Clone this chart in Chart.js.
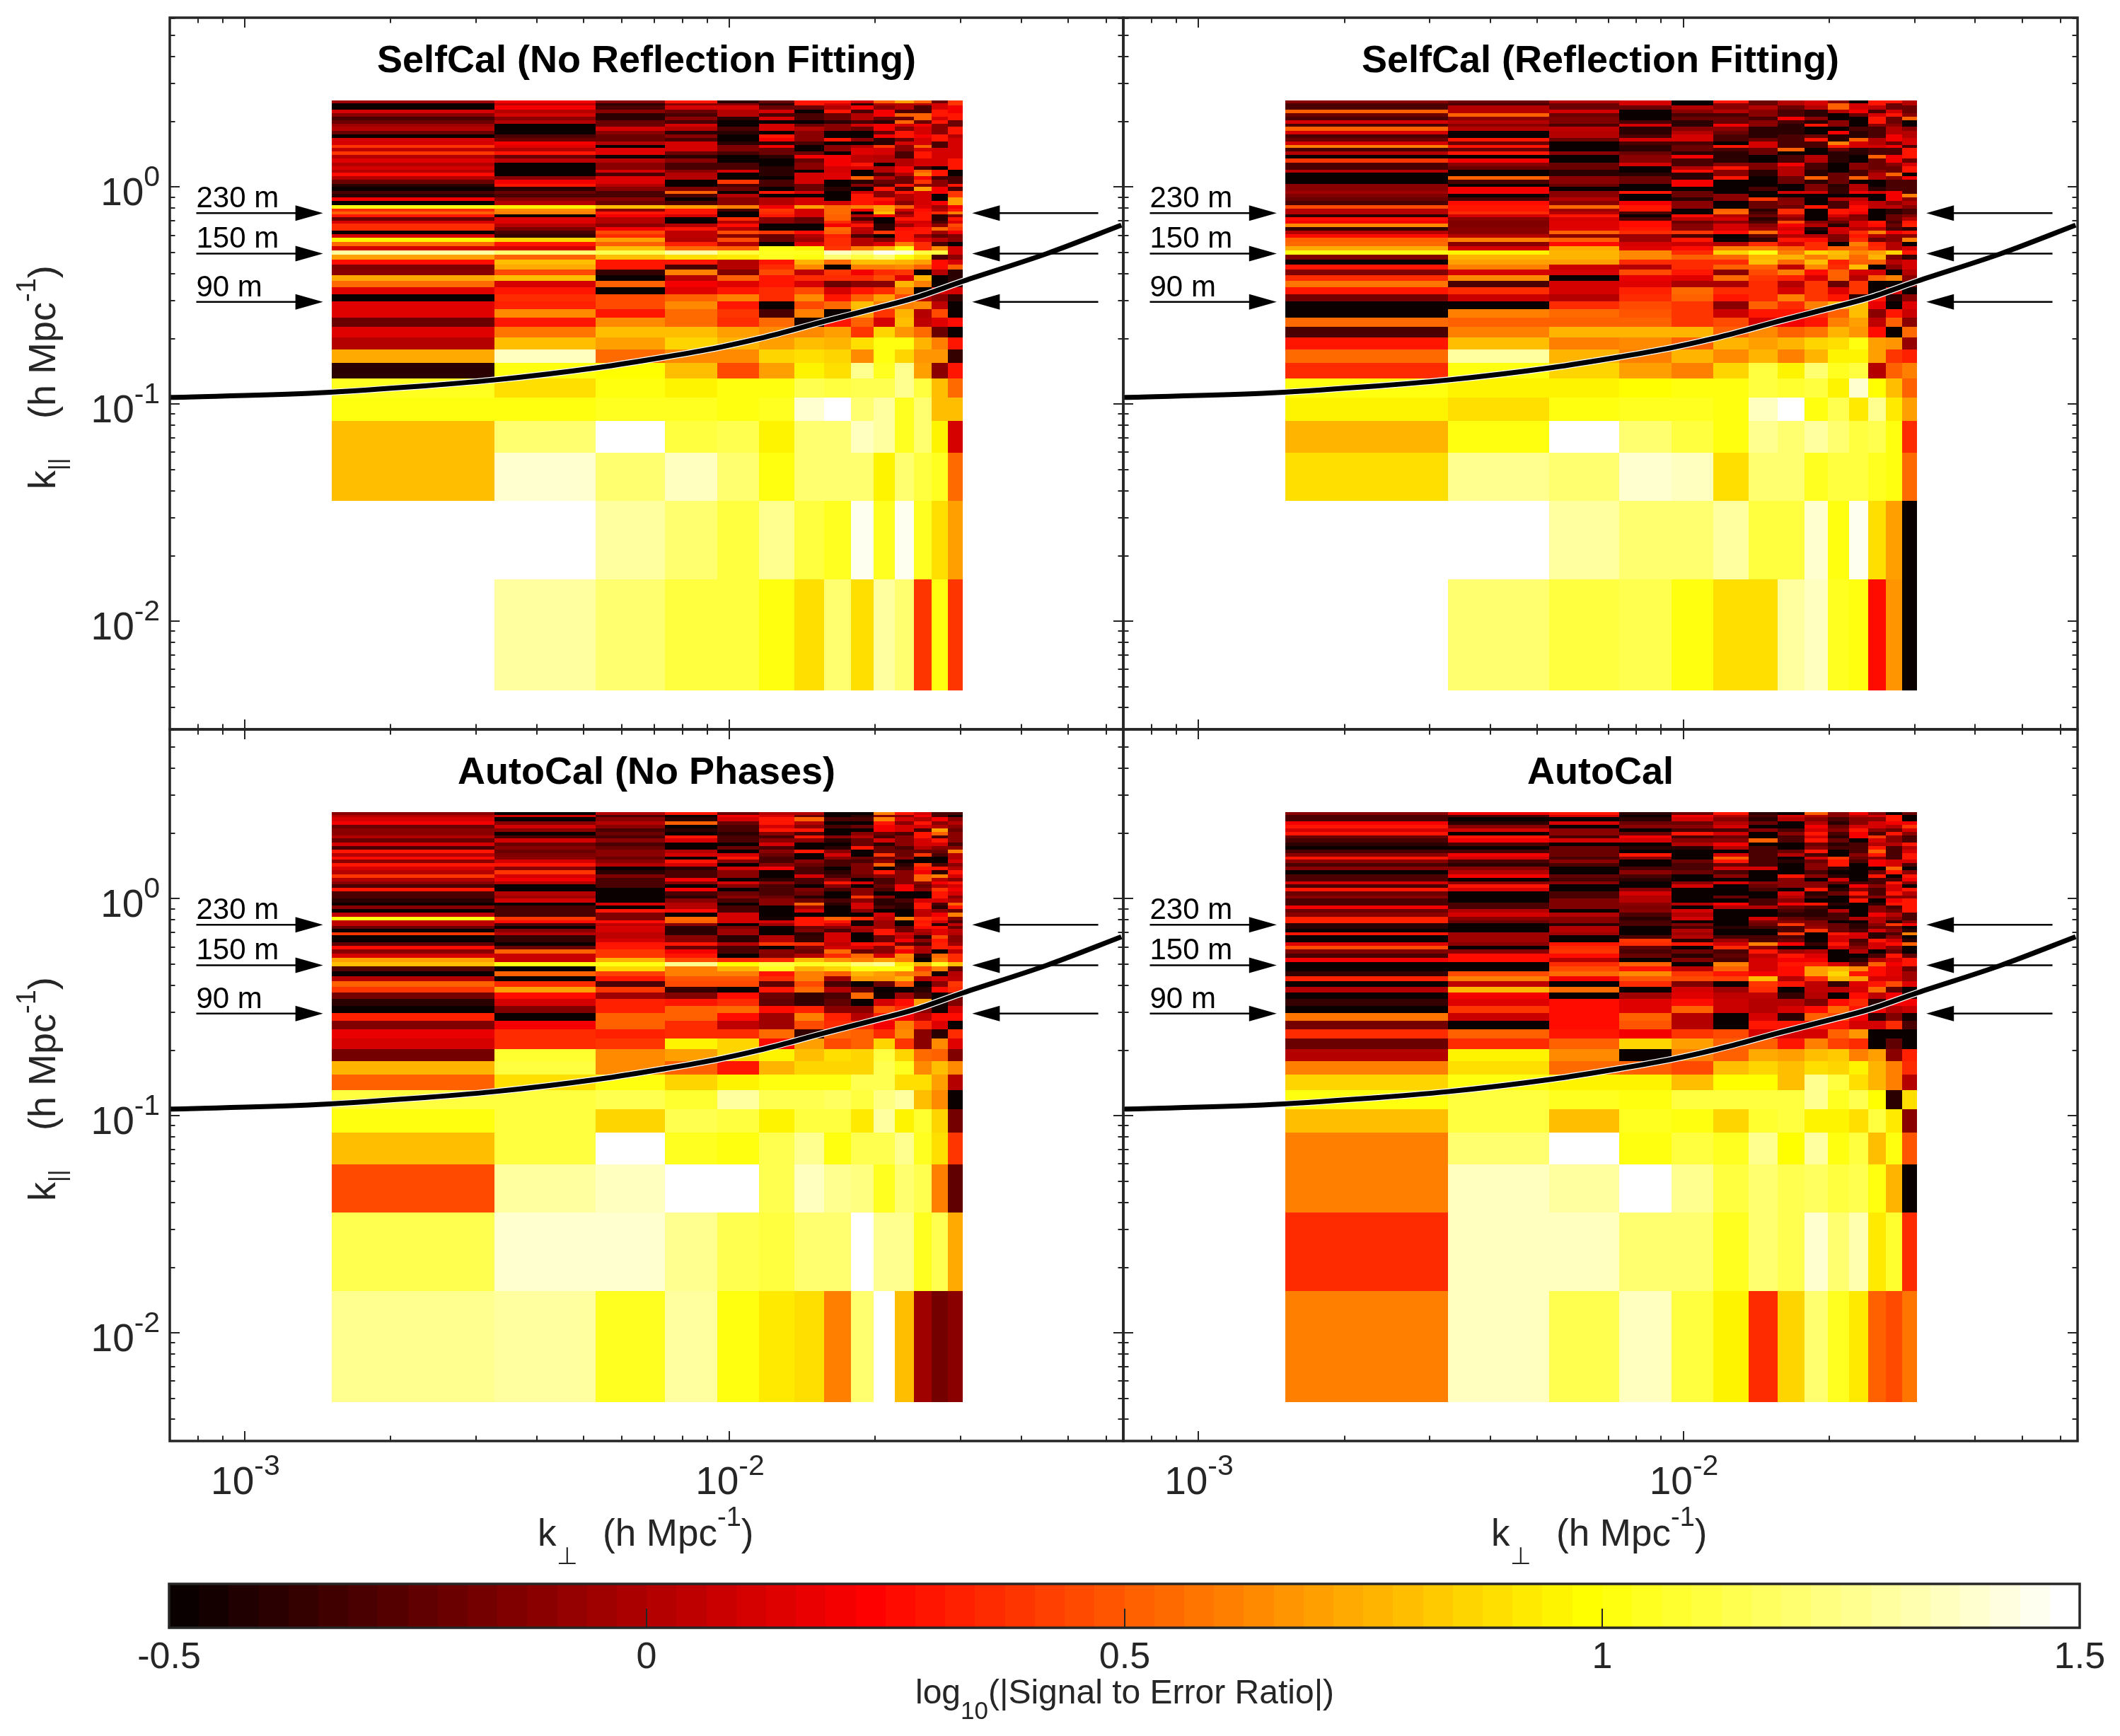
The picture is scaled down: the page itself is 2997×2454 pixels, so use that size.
<!DOCTYPE html>
<html>
<head>
<meta charset="utf-8">
<title>Signal to error ratio</title>
<script src="https://cdn.jsdelivr.net/npm/chart.js@4/dist/chart.umd.min.js"></script>
<style>
    html, body { margin: 0; padding: 0; background: #fff; }
    canvas { position: absolute; left: 0; top: 0; }
</style>
</head>
<body>
<canvas id="panel1" width="2997" height="2454"></canvas>
<canvas id="panel2" width="2997" height="2454"></canvas>
<canvas id="panel3" width="2997" height="2454"></canvas>
<canvas id="panel4" width="2997" height="2454"></canvas>
<canvas id="colorbar" width="2997" height="2454"></canvas>
<script>
const N = null; // no data in this cell

// k_perp bin edges (h/Mpc)
const kPerpEdges = [0.00151, 0.00327, 0.00529, 0.00737, 0.00945, 0.01152, 0.01363, 0.01567, 0.0178, 0.01986, 0.02196, 0.02406, 0.02613, 0.02823, 0.0303];

// k_par bin edges (h/Mpc), top of the picture first
const kParEdges = [2.503, 2.43, 2.37, 2.282, 2.198, 2.117, 2.039, 1.964, 1.892, 1.822, 1.755, 1.69, 1.628, 1.568, 1.511, 1.455, 1.402, 1.35, 1.3, 1.252, 1.206, 1.162, 1.119, 1.078, 1.038, 1.0, 0.963, 0.928, 0.894, 0.861, 0.825,
    0.7976, 0.7738, 0.75, 0.7262, 0.7024, 0.6786, 0.6548, 0.631, 0.6072, 0.5834, 0.5596, 0.5358, 0.512, 0.4882, 0.4644, 0.4406, 0.4168, 0.393, 0.3692, 0.3454, 0.3216, 0.2978, 0.274, 0.2502, 0.2264, 0.2026, 0.1788, 0.155, 0.1312, 0.1074, 0.0836, 0.0598, 0.036, 0.0156, 0.0048];

// log10(|signal to error ratio|) in tenths, one row per k_par bin, top row first
const selfCalNoRefl = [
    [-0.5,2,-1,3,-4,-2,3,3,1,5,7,5,-2,4],
    [-5,0.5,-4,-1,-1,-4,3,1,-4,0,0,0,1,4],
    [-5,2,-3,1,1,-2,-2,0,2,-1,0,-3,1,2],
    [1,0,-1,-2,0,1,-5,3,-3,2,-3,-3,3,2],
    [-1,1,-4,-3,0,-3,-3,-2,0,2,5,5,3,3],
    [-3,-1,-4,-1,-4,1,-3,-2,0,-2,-2,5,1,3],
    [-2,0,-2,-3,-5,-5,-5,-4,-3,-4,5,-2,3,-2],
    [-0.5,-5,-2,1,-5,1,-2,-1,1,2,1,2,-1,-2],
    [0,-5,1,0,-3,1,0,-1,-2,2,-1,1,-1,3],
    [-2,-5,-1,-4,-4,-5,-1,-5,-5,-2,3,1,-1,3],
    [-5,-3,-2,-1,-5,3,-1,-5,-5,2,3,2,3,0],
    [1,-2,-2,-3,-5,2,-1,3,-1,-4,-2,1,3,1],
    [1,2,0,1,-4,-4,-3,-5,-5,-4,1,1,-3,1],
    [4,1.5,-5,1,-1.5,2,-5,-1,0,4,-1,5,-3,1],
    [0.5,0,1.5,1,-1.5,-2,-5,-1,1.5,1,-1,1,1,1],
    [4,3,1.5,-2,-3,-2,-2,-5,1.5,1,-3,3,1,1],
    [0,-2,-5,-4,-5,-4,2,2,0.5,0,-3,3,1,1],
    [1.5,0.5,0,-1,-5,-5,-2,2,0.5,0,0,1,1,3],
    [0,-5,-1,-3,-3,-5,-1,2,3,-5,0,1,1,3],
    [1,-5,-1,-3,-3,-4,-1,1,1,0,2,-3,-5,3],
    [0,-5,1,-1,1,-4,-5,1,-5,0,2,5,3,-5],
    [2.5,-5,-3,0,-5,-4,1,1.5,-5,-3,0,6,3,-5],
    [0,-1,1.5,0,-5,-5,1,1.5,5,0,-2,2,-3,-3],
    [-2,2,1.5,-5,4,-3,1,-5,-4,-2,-2,4,-1,-3],
    [-4,3,0,-5,-3,-3,-2,-5,-1,-3,3,-1,-1,3],
    [-5,-4,-1,-1.5,-2,-5,-2,-4,-5,3,-3,7,2,-3],
    [-3,-2,-3,5,-5,3,1,-5,1,-1,3,1,2,4],
    [-4,-3,-3,-3,0,-5,-5,-5,3,-1,0,1,-5,4],
    [2,-1,-1,-5,-1,0,1,-5,3,3,0,1,-5,7],
    [-5,0,-2,-3,-1,0,1,1,3,2,-1,1,2,7],
    [10,9.5,8,7,6,2,7,5.5,6,7,5,1.5,-0.5,2],
    [3.5,6.5,-1,3,-3,4,1,5.5,2,7,1,2.5,0,3],
    [5,6,3,3,-5,3.5,1,5.5,-5,8,-1,3,3.5,6],
    [3,-5,2,1,-5,3,1,5,0,2,0,3,-4,-1],
    [-2,1.5,0,-5,3.5,-1,-2.5,5,-3,-5,3,3,-4,3],
    [1,1.5,0,-5,0,-1,-2,3.5,0,-5,1,1,-3,1.5],
    [3.5,0,-1,0,2.5,-5,-5,2,3,-4,-0.5,1.5,-1,4.5],
    [3.5,-1.5,2,3,0,-5,-5,5.5,0.5,-4,2.5,3,5.5,4],
    [-5,-3,4.5,0.5,4.5,4,2.5,5,0,4,3,3,-0.5,2],
    [1,-3.5,3.5,0.5,-1,-2,0,3.2,-3,-5,3,-0.5,-2.5,-1.5],
    [9.5,8.7,7,0,4.5,-2,-0.5,3.5,0,-1.5,3,1.5,0,-1],
    [5.5,3,5,3.2,0,-5,1.5,3.5,0,1.5,6,3.5,-3,-5],
    [1,1,8,5.5,5,10,9.5,4,6,7.5,10,3.5,6.5,1],
    [13,12,11.5,13,11,10.5,10.5,13.5,12.5,14.5,14,11,11,1],
    [7,5,8,9,9.3,10.5,10.3,12,11,12,10,9,-3,-1],
    [2.5,8,3,3,0.3,3,7.5,5.5,8,8,7.5,7,2.5,1],
    [-1.5,7.2,3,-3,0.2,3.5,6.5,-5,6,6,6.5,5,2.5,5],
    [-1,4.5,-3.5,6,-1.5,4.5,0.5,4,2,3.5,4,-5,0,-4],
    [7.2,8,-5,0.2,5,3,3.5,3.5,3.5,4.5,1.5,7.5,-5,-4],
    [5.5,1,5,2,1.5,3,1,-2,-1,-1,7.8,6,-5,-4],
    [1.5,3,-5,1.5,3,3.5,4.5,1,3,3.5,6,-5,1,1],
    [-5,3.5,4.5,5,6,3.5,6.5,3,5,7,4.5,0,-1,-3.5],
    [1.5,3.3,4.5,6.5,3,-5,4.5,5.5,8,6,6,6.5,0.5,-5],
    [1.5,6.5,3,5.5,4,-3,6,-5,7,4,7.5,0,4.5,-5],
    [-2,3,6.5,5.5,3.5,5.5,-4.5,3,5,1,8,0.5,1.5,2.5],
    [1.5,5.8,8,8,7,6.5,6.5,7,4,8.5,6.7,5.5,-2,-4.8],
    [0,8,7,8.5,7.5,7,8,7.5,9,10.2,10,7.5,6,3],
    [7.2,13.5,5.5,6.5,6.5,8.7,9,8.5,6.5,10.3,8.5,6.8,6.8,-3.5],
    [-4,10,9.7,8,4.5,7,9.5,9,12.5,10.5,12.5,7,-1,3],
    [10.5,9,10.3,9.5,10,10,11.5,11,11.5,11.5,12.5,11,8,5.5],
    [10,10,10.5,10.5,10,10.5,14,15,12,13,10.5,12,8,8],
    [8,12,15,11,11.5,9.5,12,12,13.5,13,10.5,12,9.5,1],
    [8,14,12,13.5,12,10,12,12,12,9.5,12,11,10.5,5.5],
    [N,N,13,12,11,12.5,11,10.5,14.5,10.5,14.5,10.5,9,7],
    [N,13,12,11,11,10,9,12,9,13,12,4,10,4]
];

const selfCalRefl = [
    [-1,-2,0,1,-5,3,-2,0,1,-1,-5,3,3,0],
    [-3,-3,-2,1,-5,-1,-2,0,1,5,1,3,-2,0],
    [-3,0,-2,-2,0,-1,0,-2,0,5,1,0.5,-2,-2],
    [5,0,1,-5,-1,0,-1,-3,-4,0,2,-3,1,-2],
    [-2,5,-2,-5,-3,-3,-1,-3,-4,-5,-2,1,3,-1],
    [-3,-1,-1.5,-5,-2,-2,-3,2,-1,-5,-5,3,-2,5],
    [1,0,-1.5,-3,-4,-2,-1,-3,-4,-1,-5,3,-2,-5],
    [-3,-1,-3,1,-4,2,-1,-4,3,-1,-5,-1,-1,-5],
    [5,0,0.5,-4,-1,-1,-4,-4,-5,-5,-3,-3,0,-1],
    [1,-5,0,-4,0,-2,-4,-4,-5,2,-4,-3,0,0],
    [-3,-5,0,-3,1,-3,-4,-3,-2,-4,-4,-3,2,0],
    [-2,3,-2,1,1,-3,-2,-3,3,-4,5,0,2,1],
    [1,-2,-5,-3,-3,-5,1,-3,-3,6,1,0,-2,1],
    [6,3,-5,-4,-2,3,1,-3,-3,3,1,1,2,-3],
    [-3,-2,-5,-4,-2,-3,-2,5,-5,-2,-4,-3,-3,3],
    [0,3,-1,-2,-4,-4,-2,-5,-5,-4,-4,-3,-3,3],
    [-5,-5,-5,-1,2,-4,-5,-3,0,-4,-5,5,2,3],
    [4,2,-5,-1,-3,-4,-5,-3,0,-4,-5,-2,2,-2],
    [-3,-1,-2,1,-3,-1,-1.5,2,-3,-5,-1,-2,-1,1],
    [-3,-2,-2,-5,0,3,-1.5,0,-3,-5,-1,-2,-2,3],
    [0,-5,-4,-5,2.5,-1,-4,0,-4,-5,-3,-1,-2,3],
    [-5,-5,-4,-4,-4,-1,-4,0,-4,-2,-3,0,5,-5],
    [-5,5,-1,-2,-4,3,-5,-2,5,-2,5,0,-1,2],
    [-5,-3,-1,-2,2,-5,-5,-2,-4,-2,-5,-5,-3,-3],
    [-1,-5,-2,-5,2,-5,-5,-5,-1.5,-4,0,-5,-3,-3],
    [-1,2,-5,-5,-5,-5,-3,-5,-1.5,-3.5,0,-4,-3,-3],
    [-0.5,2,-1,3,-2,-5,-5,1,1,-3.5,2,1,2,-3],
    [-1.5,-5,-1,-5,-2,-1,-5,-5,-5,-5,-5,-5,2,6],
    [-2,-3,0,-5,-4,-1,4,-1.5,-5,0,0.5,-5,2,-1],
    [-3,2.5,-1,2,-1,-5,-2,-1,-5,-3,1.5,0.5,-1,0],
    [4.5,3,5.5,3,-1,-5,-2,-2,3,-3,2.5,0.5,0.5,-1],
    [0,3,-0.5,3,-5,5,-4,3.5,-5,3,2.5,-5,-4,-3],
    [0,3.5,0,-3,-5,5.5,-3,3.5,-5,3,2,-5,-4,-3],
    [-4,1,3,-5,2.5,0,-2,0,-5,1,-1.5,-5,-2,-1.5],
    [2.5,-1,1,-3,0.5,1,-4,-1,-5,-0.5,-1,-5,-2,0],
    [2,-1.5,1.5,2.7,-2,-1,-3,4.5,-1,-2,1,3,-3,3],
    [6.5,-1.5,1.5,2.7,-1,1,-1,2,0,-4,1,2.7,-2,3.3],
    [-3.5,-1,1.3,3,-1,1,-0.5,1,-4,1,0,0,-3,-4],
    [0,-1,5,3.5,4,2.5,5.5,2,-5,0.7,3.5,6,2,3],
    [2.5,0.3,-1,-0.5,-3,-5,-2.5,0,0,-1.5,3,0,-1,-1],
    [5,6,5,-0.5,3,-5,-3.5,3,2.5,-1.5,3.5,-2,-1,6],
    [5.5,-1,2.7,1,0.8,0.3,3.5,1,3.5,-5,6,3.3,0,-5],
    [7.3,1,7.3,1.5,2.5,6,6,5,3.5,5,5,3.5,0,1],
    [10,9.5,7.7,6.5,3.5,8.7,10.2,6,8.5,8,6.5,7,8.5,3],
    [-1.5,7.5,7.5,6.5,5,5.5,7.5,7.5,6,7.5,5.5,7.5,-1.5,-3.5],
    [-5,7,7,3.5,3.5,3.5,8,5.5,8,3.3,5,5,0.3,1],
    [3,6,0.7,0.3,3.5,5,5,0.5,6.5,3.5,8,-5,-1,1],
    [-1.5,1,1,4.5,3,-1,4.5,6,2.5,5,1,1,-5,0],
    [3.5,6.3,-5,1.7,1.3,5.5,4,3.2,1,5,0,5,6,-1],
    [5.8,-3,1,1.3,-0.3,-0.3,3.5,0.3,4,-2,4,-5,-5,-2],
    [3,3.5,1,3.2,5.5,3.5,3.7,1,4,1.5,4,-5,1,-5],
    [-1.8,0.7,0,3.5,5.3,3,3.5,6,4,3,-4,3,-4,-1.2],
    [-5,-5,3.5,4.5,4,-1,5,3.7,6,7.5,8,1.8,-5,1.5],
    [-5,6,5.5,4.8,3.8,0.8,3,3,3.5,5,8,-1,3,0.8],
    [5.5,5,5.3,5.3,3.8,4.5,1,2,3,6,7,0.5,5,-1],
    [-3,6,7.5,7.5,7.5,5,6.5,5,5.8,7.5,6.7,2.7,-5,5.5],
    [3,8,6,6.5,5,7.5,7,7.5,8.5,8.8,10.2,7,6.7,-0.8],
    [5.5,13,7.8,6,7.8,6.5,7.5,6,7.5,9.5,9.5,7,4,3.2],
    [3.5,10,8.5,7,6,8.5,11,9.5,12,10.5,11,0,5,6],
    [10,9.5,9.5,9.8,10.3,10,11,10.8,11,9.5,14,9.8,8,5],
    [9.5,9,10,10.5,10.5,10,13.5,15,10,11.5,9.3,12.5,9.3,7],
    [7.5,10,14.7,12,11,10,12.5,12,13,12,11,11.5,10,3.5],
    [9,12.5,12,14,13.5,9,12,12,10.5,11,11,10.5,10,5.5],
    [N,N,13,12,12,13,11,11,14,10,14.5,9,7,-5],
    [N,12,11,11.5,10,9,9,13,13.5,10.5,10.2,2.5,6.7,-5]
];

const autoCalNoPhases = [
    [-1,-5,0,3,-2,0,0,-5,-5,6,3,1,-3,-3],
    [0,1,-3,-5,2,1,-2,-5,-4,-1,-1,2,-3,-5],
    [1,-5,-1,-4,1,3,5,-3,-3,6,1,0,2,-1],
    [2,-1,0,5,-2,3,0,-5,-5,3,-1,3,-1,0],
    [-2,1,-1,-5,-3,1,-1,-3,-2,2,1,1,0,-1],
    [-1,-1,-3,-4,-3,3,3,-5,-5,2,1,-3,7,-2],
    [-1,-5,-2,-5,-4,-1,-3,-5,-1,-2,-3,3,5,-1],
    [0,-3,-3,3,-3,-3,3,-1,0,-3,-1,3,-3,-1],
    [-2,1,-1,1,-3,-1,-1,-4,-2,1,-1,1,3,-1],
    [1,-2,-3,-5,-5,1,-5,-5,-2,-4,-1,1,1,-3],
    [-3,-1,-2,-5,-2,-3,-5,-4,3,-2,-3,0,-1,-1],
    [3,-2,-1,0,-5,-1,3,-1,-5,-2,-2,-2,-2,6],
    [0,-1.5,-1,1,1,-2,-5,1,-5,4,-2,4,-3,0],
    [2.5,-1,-2,-5,3,-3,-5,-1,-2,-2,-1,-5,-5,0],
    [-1,1,-1,3,-1,-3,-1,-3,-3,-1,-5,-5,-5,1],
    [3,3,0,1,-5,-1,-2,-3,-1.5,5,-4,4,-3,-1],
    [1,-1,-5,-4,1,2,-3,-5,-1.5,-5,-3,3,3,0],
    [0,4,-4,-3,-1,-5,-3,-4,-1.5,3,-1,2,-4,3],
    [4,1,-1.5,-3,-1,-5,1,-3,-2,-1,-1,5,6,1],
    [0,2,-3,2,-5,-4,-3,-1,-5,-3,-1,5,0,-1],
    [-1,0,-3,-1,1,-1,-3,3,1,-3,-1,-1,2,3],
    [-3,-5,-3,-5,-1,-3,-5,-1,-5,-2,2,-2,0,1],
    [3,-5,-5,2,-5,-3,-1.5,-3,-1,-3,2,-1,4,2],
    [-3,0,-5,-3,-2,-3,-2,-5,-1,-5,-5,-5,3,1],
    [-3,-0.5,-5,-4,-1,-2,-4,-5,4,-1,-5,-5,3,-1],
    [-4,1,-5,-1,-3,-1,-2,-3,-1,-4,-3,1,1,0],
    [-5,-5,1,0,-5,-1,5,-4,1,-4,-4,3,-3,5],
    [-1,-3,-5,0,-3,-5,-0.5,-5,1,-3,-4,3,-4,3],
    [-5,-3,3,2.5,-3,-5,1,-5,-1,-5,-5,0.5,-1,-2],
    [0.5,-3,-1.5,-5,1,-5,-5,-5,-5,1,-5,0.5,2,6],
    [10,4,-1.5,5.5,1,-4.5,3,5,3.5,0.5,6,3.5,3,-1.5],
    [0.5,2.5,2.5,5,1,1,3,3,-4.5,-0.5,-5,3,1,-3],
    [0.5,-3,0.5,-1,-5,-0.5,3,1,-4.5,-0.5,-5,3.3,-4,0.5],
    [-2,-5,1,-4,-1.5,-5,-2,-1,0,-0.5,-2,2.5,2.5,-2],
    [-5,-1,1,-4,-0.5,-5,-1.5,-3,-0.5,3,-2,0,1.5,0.5],
    [4,0,0.5,-4,-0.5,-5,-4,1,-5,3,1,-0.5,1.5,0],
    [-5,-3.5,0.5,-1,-4,0,-3.5,1,-5,-2,0.5,-4,4.5,-1],
    [-5,-3.5,1,-1,-4,0,-3.5,1,-5,-2,2,-1,3,-1],
    [-2.5,-5,3,3,0,4,3.5,0.5,2.5,3,-2,-3,3.2,-0.5],
    [2.5,-2,3,-2,-3,-5,-1.5,1,1,-1,4,0,3.3,3],
    [-1,5,3.8,2,-3,-1,-2,5.5,-2,-1,2,-0.2,-5,0.5],
    [1,0.7,3.8,3,-5,-1.5,0,3.5,5.5,1,6.5,-4,5.5,3.5],
    [7,0.7,7.5,4.5,3.5,3.5,8,6.8,6,7,6,-5,6,3.5],
    [8,10,10,12.5,9.7,11,10.5,10.8,12,12.8,9.3,7.5,10.5,8],
    [-2.7,-5,8.5,6,7.5,10.5,7.5,8.5,10,10,10,4.3,6,-2.5],
    [-5,5.3,4.3,6,6,3,6,5.3,7.5,7,6,5.5,-4.5,0],
    [0.3,-5,3,4.7,4.7,3.5,6,-0.5,6.8,6.8,7.5,0.3,1,0.5],
    [5,3.5,-3,4.5,4.5,-2.5,4.5,-3,-5,-2,4.8,-5,-1,3.8],
    [3.8,7,4,-3.5,-5,3,5.5,0,-2,-5,-5,-4,2.8,3.5],
    [-1.7,2.8,-0.5,-1.5,2.8,-2,-3.5,-3,5.5,-4.5,-0.5,-3,-5,-2],
    [-4,1,3.3,3,3.5,-2.5,-3.5,-2.5,-5,1,2.5,7,-4.5,-1.5],
    [-5,-1.5,3.3,5,5.5,2.5,3.3,-1,-1,4.8,3.5,-1,-4.5,1.2],
    [3.3,-5,5,5,2.5,-0.5,6,3.3,0.3,3.3,2,0.5,2.7,2.7],
    [-1.5,2,5,3.7,0.5,-0.5,4.5,3.5,3.7,2,6,3.5,1.5,-5],
    [1.7,3.5,3.3,3.7,3.7,5.5,-3.5,5.5,5,3.5,6.5,-1,-4,3.5],
    [1,3.5,4,9.5,8.7,2.5,7,4.5,5,8.5,4,-1,6.5,1.5],
    [-1.7,10.8,6.5,7,8.5,9.5,8,9,8.5,11,8.5,5.5,5,-1.5],
    [7.7,11,6.5,5,3,7.5,8.5,8.5,8.5,11.5,10.5,6.5,8,6.5],
    [5,9,10,8.5,9.5,10.2,10.3,10.3,11.5,11.5,9,9,7,0.3],
    [11,11,11.5,10.7,13,11.5,11.3,11.7,11,12.3,13,8,6.5,-5],
    [10,11,8.7,11.5,11,9.5,11,11,9.3,13,9.5,10.7,8.5,-1.8],
    [8,11,15,10.5,10,11.5,12.5,10.3,11.5,11.5,12.8,10.5,9,4],
    [4.5,13,13.5,15,14.7,11.5,13.5,12.5,12.3,10.5,12,11.5,6,-2.5],
    [11.5,14,14,12.5,11.5,11,12,12,14.7,12.7,12.5,10.5,11.5,7.3],
    [12.5,13,10.5,13,10,9.3,9,6,12,15,8,-0.5,-1.7,-1]
];

const autoCal = [
    [-1,2,3,-4,-2,3,-4,-5,5,-1,2,-1,-5,-2],
    [-3,-3,1,-5,2,0,-3,1,0,-1,0,1,3,-5],
    [-3,-5,-5,-4,1,-1,-4,0,-1,-3,-1,-1,3,-5],
    [2,-4,1,-2,-2,0,-2,-5,0,-4,-1,1,2,2],
    [3,-1,-5,-1,-1,1,-5,-5,2,-2,1,1,0,4],
    [1,1,-1,-5,-3,-3,-1,-3,1,-1,3,-1,-2,1],
    [3,-5,-1,-2,3,1,-5,-1,3,-3,2,-3,3,-1],
    [-2,3,-3,2,-3,-2,-5,-3,1,-4,2,4,-1,-3],
    [-3,2,1,1,-1,-1,5,-3,3,-2,-5,1,-1,-3],
    [-4,-3,-5,-5,0,2,-5,-5,-2,-4,-3,0,0,3],
    [-5,-5,-2,-4,-4,0,-3,-5,-1,-3,-3,3,-3,0],
    [-3,-3,-2,-5,-5,-5,-3,-2,3,-5,-3,5,-3,1],
    [-1,2,-2,3,-5,1,-3,0,-3,-5,-1,3,-3,3],
    [3,1,-3,-1,-5,5,-3,-5,1,4,-2,-1,-3,3],
    [-1,-3,-1,-5,-2,3,-3,-4,-2,3,-3,2,1,1],
    [-3,-4,-3,-5,-3,-2,-3,-5,-1,3,-5,2,1,-3],
    [-1,-1,-5,-3,-3,1,1,-5,-1,-4,-5,-5,5,-5],
    [-5,0,-5,-1,-2,-3,-5,-5,-3,-5,-5,-2,3,-1],
    [-3,2,-2.5,-3,-5,-1,-5,3,-1,-4,-5,3,-5,3],
    [-3,-5,-3,-4,-5,-5,-5,-1,-5,1,-5,-3,-3,2],
    [1,-1,-1,-5,-1,1,-1,-1,-1,-2,-3,-3,3,-1],
    [-3,3,-5,-5,1,-5,-2,-1,-1,-5,2,-1,1,-5],
    [3,1,-5,-1,-5,-5,-3,-5,3,-4,-1,-3,1,3],
    [-2,-5,-3,1,-5,-5,-5,1,-4,-2,3,-3,3,0],
    [-1,-5,-3,0,-5,-2,-5,0,-3,-5,-1,-1,-1,-1],
    [-3,-5,-1.5,0,-5,-5,-3,-1,-5,-5,3,-5,2,3],
    [-3,-3,-1.5,-1,0,2,-3,2,3,-4,-5,-4,3,3],
    [2,-3,-1.5,-1.5,-5,0,0,-2,-3,-5,-5,-1,-3,3],
    [-2,0,-5,-1,1,-5,-5,-3,-4,0,-5,-1,-2,3],
    [-1,1,0,-3,0,-5,-5,-4,-4,-3,-5,2,0,-3],
    [3.3,-1,-1,-4,1,-5,1,-2,-3,-3,0,0,-1,-3],
    [3.3,-2,-1,-3,-5,-5,-1.5,-1,-1.5,-5,-5,0,-4,-1],
    [-4,-5,-4,-3,-1.5,-5,-2,4,-1,-2,-4,-1,4,2],
    [-4,-5,0,-5,-3,-4,-3,-3,-0.5,-2,-4,-2,-2,-5],
    [-5,-5,0,-5,0,-5,-5,-3,4,-2,-3,1,-1,-4],
    [3,-0.5,-0.5,-5,-0.5,-5,-5,4,-5,3,1.5,-4,-3,6],
    [-5,-0.5,-5,-3,0,-3,-3,-3,-5,1,1,-4,-1,-5],
    [-5,-0.5,-5,4,-4,-0.5,-3,-2,-5,1,-3,3,1,-4],
    [1.5,-1,3,3.5,3,1,6,2,-3.5,3,-2.5,1,2.5,5],
    [4.5,-5,3.5,-2.5,-5,3.5,-1,-5,-5,1,-1,1,-1,-5],
    [-1.5,-1,4,-3,-2,-3,3,-0.5,0,-5,0,-5,-2,-5],
    [-3,2.5,2.5,-2,-4,-2.5,0.5,3,1.5,-5,-5,-3,3,-2.5],
    [2,2.5,0,-5,-1.5,-3,1,2,2,-5,-4,0,1,3],
    [-5,-5,3.5,5,-5,6,1,3,3.3,1,-2,5,2,3],
    [-5,-5,4.5,3,0.5,5,1,2.5,7,7.5,6.5,2.5,1.5,-2],
    [-3.5,4.5,5.5,6.5,4,3,2,2.5,7,8.5,3,2.5,1.5,-0.5],
    [3.3,6,2,4.8,4.5,4.3,8,0,3.5,7.5,7,1,1,-0.5],
    [-5,0.5,-5,3.5,-1.5,-5,4,3,0.5,-3.5,1.3,3,4.5,1.5],
    [0.3,7.5,5.5,-5,1,-0.5,3.7,-5,0.5,0.5,1.2,5.5,-2.5,-5],
    [-5,2,-5,-0.5,1.5,0.5,0.5,-3.5,0,-5,2.7,0.5,2,-4],
    [-3.5,1.5,2.8,1.5,2.7,0.7,0.3,0,-1.5,2.8,3.5,-4,2,2],
    [-5,3.8,2.8,1.5,5,0.7,0,1,2.8,5.5,3,2,0.3,0.7],
    [5.8,0.7,2.8,5.3,0.3,-5,1,-4,5.3,4.5,2,-4,-1.5,-4.5],
    [-1.8,-5,2.8,4.8,0.3,-5,3,3,3,3,1,1,3.5,-3],
    [3.5,5.3,3,2,4,4.5,1,1,1,5,6.7,-5,-5,-5],
    [-2,3.5,5,8.5,7,5,5,3,6,4.3,3.5,-5,-2.5,-5],
    [0.3,9.5,6.5,-5,6,5,7.3,7,8,8.3,6,7,-1,3.3],
    [6.2,9,5.6,5,4.5,8,8.7,8,9,8.7,9.5,7.7,6,3.5],
    [8.5,10,9.5,9.5,8,9.8,9.8,8,12.5,11,9,7.7,6,0],
    [10,11,10.5,10,11,11,11,11,12.5,10.5,11.5,9.8,-4,9],
    [8,11,8,10.6,10.3,8.5,10.8,11,9.6,9.6,9,11,9.2,-1],
    [6,12,14.7,10.2,11,10.6,12.5,9.8,13,10.2,11,8,10,4.8],
    [6,13.5,13,15,12.5,11,12,11.5,11.7,11,11.5,10.2,7.7,-5],
    [3.5,13.5,13.5,12,12,10.5,12,11.5,14,12,13.2,9.2,10.7,3.5],
    [6,13.5,11.5,13.5,11,9.6,3.5,8.5,12,10.5,9.2,5,4.5,5.8]
];

// delay horizon line
const horizonKPerp = [0.000698, 0.001358, 0.00221, 0.00327, 0.00537, 0.00736, 0.00944, 0.0115, 0.0136, 0.01567, 0.01986, 0.02404, 0.03034, 0.04519, 0.0644];
const horizonKPar = [0.1074, 0.1122, 0.1202, 0.1293, 0.1476, 0.1649, 0.182, 0.2005, 0.2208, 0.2405, 0.2754, 0.3082, 0.3687, 0.494, 0.668];

// reflection arrows
const arrowKPar = [0.759, 0.494, 0.296];
const arrowLabels = ['230 m', '150 m', '90 m'];

const colorbarTicks = [-0.5, 0, 0.5, 1, 1.5];
const colorbarLabels = ['-0.5', '0', '0.5', '1', '1.5'];

const textColor = '#262626';
const fontName = '"Liberation Sans", Arial, sans-serif';

// MATLAB hot, 64 levels
function hotColor(level) {
    const i = Math.max(0, Math.min(63, level));
    const r = Math.min(1, (i + 1) / 24);
    const g = Math.max(0, Math.min(1, (i + 1 - 24) / 24));
    const b = Math.max(0, Math.min(1, (i + 1 - 48) / 16));
    return `rgb(${Math.round(r * 255)},${Math.round(g * 255)},${Math.round(b * 255)})`;
}

function valueColor(v) {
    return hotColor(Math.floor((v + 0.5) / 2 * 64));
}

// draws pieces of text one after another, each with its own size and shift
function drawRuns(ctx, x, y, runs) {
    let px = x;
    ctx.textAlign = 'left';
    ctx.textBaseline = 'alphabetic';
    runs.forEach(run => {
        ctx.font = `${run.size}px ${fontName}`;
        if (run.at !== undefined) px = x + run.at;
        ctx.fillText(run.text, px, y + (run.dy || 0));
        px += ctx.measureText(run.text).width;
    });
}

// axes take no room of their own, the padding alone places the plot area
function noWidth(scale) { scale.width = 0; }
function noHeight(scale) { scale.height = 0; }

const heatmapPlugin = {
    id: 'heatmap',
    beforeDatasetsDraw(chart, args, opts) {
        const {ctx, scales: {x, y}} = chart;
        ctx.save();
        opts.rows.forEach((row, r) => {
            const top = Math.round(y.getPixelForValue(kParEdges[r]));
            const bottom = Math.round(y.getPixelForValue(kParEdges[r + 1]));
            row.forEach((v, c) => {
                if (v === null) return;
                const left = Math.round(x.getPixelForValue(kPerpEdges[c]));
                const right = Math.round(x.getPixelForValue(kPerpEdges[c + 1]));
                ctx.fillStyle = valueColor(v / 10);
                ctx.fillRect(left, top, right - left, bottom - top);
            });
        });
        ctx.restore();
    }
};

const arrowsPlugin = {
    id: 'arrows',
    afterDatasetsDraw(chart) {
        const {ctx, scales: {x, y}} = chart;
        ctx.save();
        ctx.fillStyle = '#000';
        ctx.strokeStyle = '#000';
        ctx.lineWidth = 2.5;
        const arrow = (x0, x1, py) => {
            const dir = x1 > x0 ? 1 : -1;
            ctx.beginPath();
            ctx.moveTo(x0, py);
            ctx.lineTo(x1 - dir * 30, py);
            ctx.stroke();
            ctx.beginPath();
            ctx.moveTo(x1, py);
            ctx.lineTo(x1 - dir * 39, py - 11);
            ctx.lineTo(x1 - dir * 39, py + 11);
            ctx.closePath();
            ctx.fill();
        };
        arrowKPar.forEach((k, i) => {
            const py = y.getPixelForValue(k);
            arrow(x.getPixelForValue(0.000794), x.getPixelForValue(0.00145), py);
            arrow(x.getPixelForValue(0.0577), x.getPixelForValue(0.0317), py);
            drawRuns(ctx, x.getPixelForValue(0.000794), py - 8, [{text: arrowLabels[i], size: 42}]);
        });
        ctx.restore();
    }
};

const framePlugin = {
    id: 'frame',
    afterDraw(chart, args, opts) {
        const {ctx, chartArea: area, scales: {x, y}} = chart;
        ctx.save();
        ctx.strokeStyle = textColor;
        ctx.fillStyle = textColor;
        ctx.lineWidth = 2;

        // ticks point inwards on all four sides
        for (let e = -4; e <= 1; e++) {
            for (let m = 1; m <= 9; m++) {
                const v = m * Math.pow(10, e);
                const len = m === 1 ? 14 : 7.5;
                if (v > x.min && v < x.max) {
                    const px = Math.round(x.getPixelForValue(v));
                    ctx.beginPath();
                    ctx.moveTo(px, area.top);
                    ctx.lineTo(px, area.top + len);
                    ctx.moveTo(px, area.bottom);
                    ctx.lineTo(px, area.bottom - len);
                    ctx.stroke();
                }
                if (v > y.min && v < y.max) {
                    const py = Math.round(y.getPixelForValue(v));
                    ctx.beginPath();
                    ctx.moveTo(area.left, py);
                    ctx.lineTo(area.left + len, py);
                    ctx.moveTo(area.right, py);
                    ctx.lineTo(area.right - len, py);
                    ctx.stroke();
                }
            }
        }
        ctx.lineWidth = 3.5;
        ctx.strokeRect(area.left, area.top, area.right - area.left, area.bottom - area.top);

        // panel title
        ctx.fillStyle = '#000';
        ctx.font = `bold 54px ${fontName}`;
        ctx.textAlign = 'center';
        ctx.textBaseline = 'alphabetic';
        ctx.fillText(opts.title, (area.left + area.right) / 2, area.top + 77);
        ctx.fillStyle = textColor;

        if (opts.showX) {
            [-3, -2].forEach(e => {
                const px = x.getPixelForValue(Math.pow(10, e));
                drawRuns(ctx, px - 48, area.bottom + 75, [
                    {text: '10', size: 55},
                    {text: String(e), size: 41, dy: -27}
                ]);
            });
            drawRuns(ctx, area.left + 520, area.bottom + 148, [
                {text: 'k', size: 53},
                {text: '\u22A5', size: 34, dy: 26, at: 27},
                {text: '(h Mpc', size: 53, at: 92},
                {text: '-1', size: 38, dy: -28},
                {text: ')', size: 53}
            ]);
        }
        if (opts.showY) {
            [0, -1, -2].forEach(e => {
                const py = y.getPixelForValue(Math.pow(10, e));
                ctx.font = `41px ${fontName}`;
                const expWidth = ctx.measureText(String(e)).width;
                drawRuns(ctx, area.left - 14 - expWidth - 61, py + 26, [
                    {text: '10', size: 55},
                    {text: String(e), size: 41, dy: -27}
                ]);
            });
            ctx.save();
            ctx.translate(area.left - 162, area.top + 667);
            ctx.rotate(-Math.PI / 2);
            drawRuns(ctx, 0, 0, [
                {text: 'k', size: 54},
                {text: '||', size: 34, dy: 14, at: 27},
                {text: '(h Mpc', size: 54, at: 100},
                {text: '-1', size: 38, dy: -28},
                {text: ')', size: 54}
            ]);
            ctx.restore();
        }
        ctx.restore();
    }
};

function makePanel(id, rows, box, title, showX, showY) {
    new Chart(document.getElementById(id), {
        type: 'scatter',
        data: {
            datasets: [
                // black line on a thin white one, first in the list is on top
                {
                    data: horizonKPerp.map((k, i) => ({x: k, y: horizonKPar[i]})),
                    showLine: true, borderColor: '#000', borderWidth: 7, pointRadius: 0,
                    cubicInterpolationMode: 'monotone', order: 1
                },
                {
                    data: horizonKPerp.map((k, i) => ({x: k, y: horizonKPar[i]})),
                    showLine: true, borderColor: '#fff', borderWidth: 9.5, pointRadius: 0,
                    cubicInterpolationMode: 'monotone', order: 2
                }
            ]
        },
        options: {
            responsive: false,
            animation: false,
            devicePixelRatio: 1,
            layout: {padding: {left: box.left, top: box.top, right: 2997 - box.right, bottom: 2454 - box.bottom}},
            plugins: {
                legend: {display: false},
                tooltip: {enabled: false},
                heatmap: {rows: rows},
                frame: {title: title, showX: showX, showY: showY}
            },
            scales: {
                x: {
                    type: 'logarithmic', min: 0.0007, max: 0.065, afterFit: noHeight,
                    grid: {display: false}, border: {display: false}, ticks: {display: false}
                },
                y: {
                    type: 'logarithmic', min: 0.00318, max: 6.03, afterFit: noWidth,
                    grid: {display: false}, border: {display: false}, ticks: {display: false}
                }
            }
        },
        plugins: [heatmapPlugin, arrowsPlugin, framePlugin]
    });
}

makePanel('panel1', selfCalNoRefl, {left: 240, top: 25, right: 1588, bottom: 1031}, 'SelfCal (No Reflection Fitting)', false, true);
makePanel('panel2', selfCalRefl, {left: 1588, top: 25, right: 2937, bottom: 1031}, 'SelfCal (Reflection Fitting)', false, false);
makePanel('panel3', autoCalNoPhases, {left: 240, top: 1031, right: 1588, bottom: 2037}, 'AutoCal (No Phases)', true, true);
makePanel('panel4', autoCal, {left: 1588, top: 1031, right: 2937, bottom: 2037}, 'AutoCal', true, false);

// colour bar
const colorbarPlugin = {
    id: 'colorbarCells',
    beforeDatasetsDraw(chart) {
        const {ctx, chartArea: area, scales: {x}} = chart;
        for (let i = 0; i < 64; i++) {
            const left = Math.round(x.getPixelForValue(-0.5 + i / 32));
            const right = Math.round(x.getPixelForValue(-0.5 + (i + 1) / 32));
            ctx.fillStyle = hotColor(i);
            ctx.fillRect(left, area.top, right - left, area.bottom - area.top);
        }
    },
    afterDraw(chart) {
        const {ctx, chartArea: area, scales: {x}} = chart;
        ctx.save();
        ctx.strokeStyle = textColor;
        ctx.fillStyle = textColor;
        ctx.lineWidth = 2;
        colorbarTicks.forEach((v, i) => {
            const px = Math.round(x.getPixelForValue(v));
            ctx.beginPath();
            ctx.moveTo(px, area.bottom);
            ctx.lineTo(px, area.bottom - 27);
            ctx.stroke();
            ctx.font = `52px ${fontName}`;
            ctx.textAlign = 'center';
            ctx.textBaseline = 'alphabetic';
            ctx.fillText(colorbarLabels[i], px, area.bottom + 57);
        });
        ctx.lineWidth = 3.5;
        ctx.strokeRect(area.left, area.top, area.right - area.left, area.bottom - area.top);
        drawRuns(ctx, 1294, 2408, [
            {text: 'log', size: 48},
            {text: '10', size: 35, dy: 22},
            {text: '(|Signal to Error Ratio|)', size: 48}
        ]);
        ctx.restore();
    }
};

new Chart(document.getElementById('colorbar'), {
    type: 'scatter',
    data: {datasets: [{data: []}]},
    options: {
        responsive: false,
        animation: false,
        devicePixelRatio: 1,
        layout: {padding: {left: 239, top: 2239, right: 2997 - 2940, bottom: 2454 - 2301}},
        plugins: {legend: {display: false}, tooltip: {enabled: false}},
        scales: {
            x: {type: 'linear', min: -0.5, max: 1.5, afterFit: noHeight, grid: {display: false}, border: {display: false}, ticks: {display: false}},
            y: {type: 'linear', min: 0, max: 1, afterFit: noWidth, grid: {display: false}, border: {display: false}, ticks: {display: false}}
        }
    },
    plugins: [colorbarPlugin]
});
</script>
</body>
</html>
